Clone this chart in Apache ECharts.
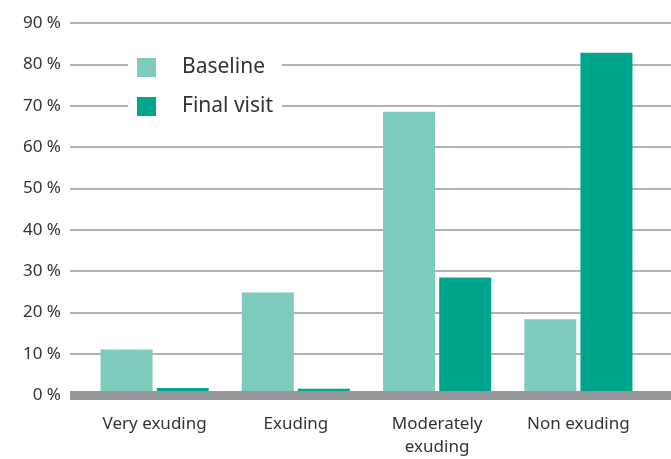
<!DOCTYPE html>
<html>
<head>
<meta charset="utf-8">
<script src="https://cdn.jsdelivr.net/npm/echarts@6/dist/echarts.min.js"></script>
<style>
    html, body { margin: 0; padding: 0; background: #fff; }
    #main { width: 671px; height: 459px; }
</style>
</head>
<body>
<div id="main"></div>
<script>
var categories = ['Very exuding', 'Exuding', 'Moderately\nexuding', 'Non exuding']
var baseline = [11.0, 24.8, 68.5, 18.3]
var finalVisit = [1.7, 1.5, 28.4, 82.8]
var yTicks = [0, 10, 20, 30, 40, 50, 60, 70, 80, 90]

var font = 'Noto Sans'
var myChart = echarts.init(document.getElementById('main'))

myChart.setOption({
    animation: false,
    textStyle: { fontFamily: font },
    legend: {
        orient: 'vertical',
        left: 128,
        top: 48,
        padding: [9, 9, 9, 9],
        backgroundColor: '#fff',
        icon: 'rect',
        itemWidth: 19,
        itemHeight: 19,
        itemGap: 18,
        z: 20,
        textStyle: { fontSize: 21, color: '#333', fontFamily: font, padding: [0, 0, 0, 21] },
        data: ['Baseline', 'Final visit']
    },
    // grid 0 : y labels + gridlines + thick baseline, grid 1 : bars
    grid: [
        { left: 70, right: 0, top: 23, bottom: 64 },
        { left: 84, right: 22, top: 23, bottom: 64 }
    ],
    xAxis: [{
        gridIndex: 0,
        type: 'value',
        min: 0,
        max: 1,
        z: 10,
        axisLine: { show: true, lineStyle: { color: '#96979b', width: 9, cap: 'butt' } },
        axisTick: { show: false },
        axisLabel: { show: false },
        splitLine: { show: false }
    }, {
        gridIndex: 1,
        type: 'category',
        data: categories,
        axisLine: { show: false },
        axisTick: { show: false },
        axisLabel: {
            margin: 18,
            fontSize: 17,
            lineHeight: 23,
            color: '#333',
            fontFamily: font
        }
    }],
    yAxis: [{
        gridIndex: 0,
        type: 'value',
        min: yTicks[0],
        max: yTicks[yTicks.length - 1],
        interval: 10,
        axisLine: { show: false },
        axisTick: { show: false },
        axisLabel: {
            margin: 9,
            fontSize: 17,
            color: '#333',
            fontFamily: font,
            formatter: '{value} %'
        },
        splitLine: { lineStyle: { color: '#999', width: 1.5 } }
    }, {
        gridIndex: 1,
        type: 'value',
        min: yTicks[0],
        max: yTicks[yTicks.length - 1],
        interval: 10,
        show: false
    }],
    series: [{
        name: 'Baseline',
        type: 'bar',
        xAxisIndex: 1,
        yAxisIndex: 1,
        barWidth: 52,
        barGap: '8%',
        itemStyle: { color: '#7ecbbd' },
        data: baseline
    }, {
        name: 'Final visit',
        type: 'bar',
        xAxisIndex: 1,
        yAxisIndex: 1,
        barWidth: 52,
        barGap: '8%',
        itemStyle: { color: '#00a68c' },
        data: finalVisit
    }]
})
</script>
</body>
</html>
